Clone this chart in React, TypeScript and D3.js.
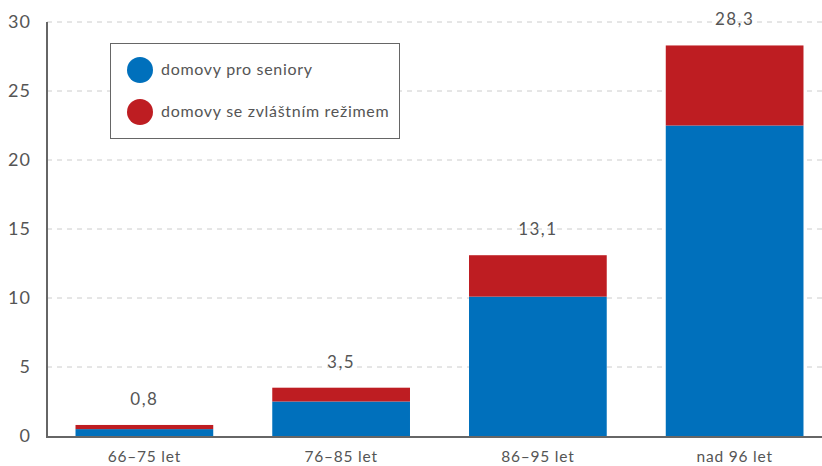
import React from "react";
import * as d3 from "d3";

const categories = ["66–75 let", "76–85 let", "86–95 let", "nad 96 let"];
const seniorHomes = [0.5, 2.5, 10.1, 22.5];
const specialHomes = [0.3, 1.0, 3.0, 5.8];
const totals = [0.8, 3.5, 13.1, 28.3];
const yTicks = [0, 5, 10, 15, 20, 25, 30];
const seriesNames = ["domovy pro seniory", "domovy se zvláštním režimem"];
const seriesColors = ["#0070BC", "#BE1D22"];

const W = 822, H = 466;
const top = 22, bottom = 436, left = 47;
const font = "'Lato', 'Open Sans', sans-serif";
const textColor = "#555";

export default function App() {
  const y = d3.scaleLinear().domain([0, 30]).range([bottom, top]);
  const x = d3.scaleBand<string>().domain(categories).range([46, 833]).paddingInner(0.3).paddingOuter(0.15);
  const fmt = (v: number) => v.toFixed(1).replace(".", ",");
  return (
    <svg width={W} height={H} style={{ position: "absolute", left: 0, top: 0, background: "#fff" }}>
      {yTicks.filter(t => t > 0).map(t => (
        <line key={t} x1={left} x2={W} y1={y(t)} y2={y(t)} stroke="#ccc" strokeDasharray="5,5" strokeWidth={1} />
      ))}
      {categories.map((c, i) => (
        <g key={c}>
          <rect x={x(c)} width={x.bandwidth()} y={y(seniorHomes[i])} height={y(0) - y(seniorHomes[i])} fill={seriesColors[0]} />
          <rect x={x(c)} width={x.bandwidth()} y={y(totals[i])} height={y(seniorHomes[i]) - y(totals[i])} fill={seriesColors[1]} />
          <text x={(x(c) as number) + x.bandwidth() / 2} y={y(totals[i]) - 20} textAnchor="middle" fontFamily={font} fontSize={17} letterSpacing={1.5} fill={textColor}>{fmt(totals[i])}</text>
          <text x={(x(c) as number) + x.bandwidth() / 2} y={462} textAnchor="middle" fontFamily={font} fontSize={15.5} letterSpacing={0.8} fill={textColor}>{c}</text>
        </g>
      ))}
      <line x1={left} x2={left} y1={top} y2={bottom + 1} stroke="#666" strokeWidth={2} />
      <line x1={left - 1} x2={W} y1={bottom + 1} y2={bottom + 1} stroke="#666" strokeWidth={2} />
      {yTicks.map(t => (
        <text key={t} x={31} y={y(t) + 6} textAnchor="end" fontFamily={font} fontSize={18} letterSpacing={1} fill={textColor}>{t}</text>
      ))}
      <rect x={110.5} y={43.5} width={289} height={95} fill="#fff" stroke="#666" strokeWidth={1} />
      {seriesNames.map((n, i) => (
        <g key={n}>
          <circle cx={140} cy={70 + i * 42} r={13} fill={seriesColors[i]} />
          <text x={161} y={75 + i * 42} fontFamily={font} fontSize={16} letterSpacing={0.7} fill={textColor}>{n}</text>
        </g>
      ))}
    </svg>
  );
}
